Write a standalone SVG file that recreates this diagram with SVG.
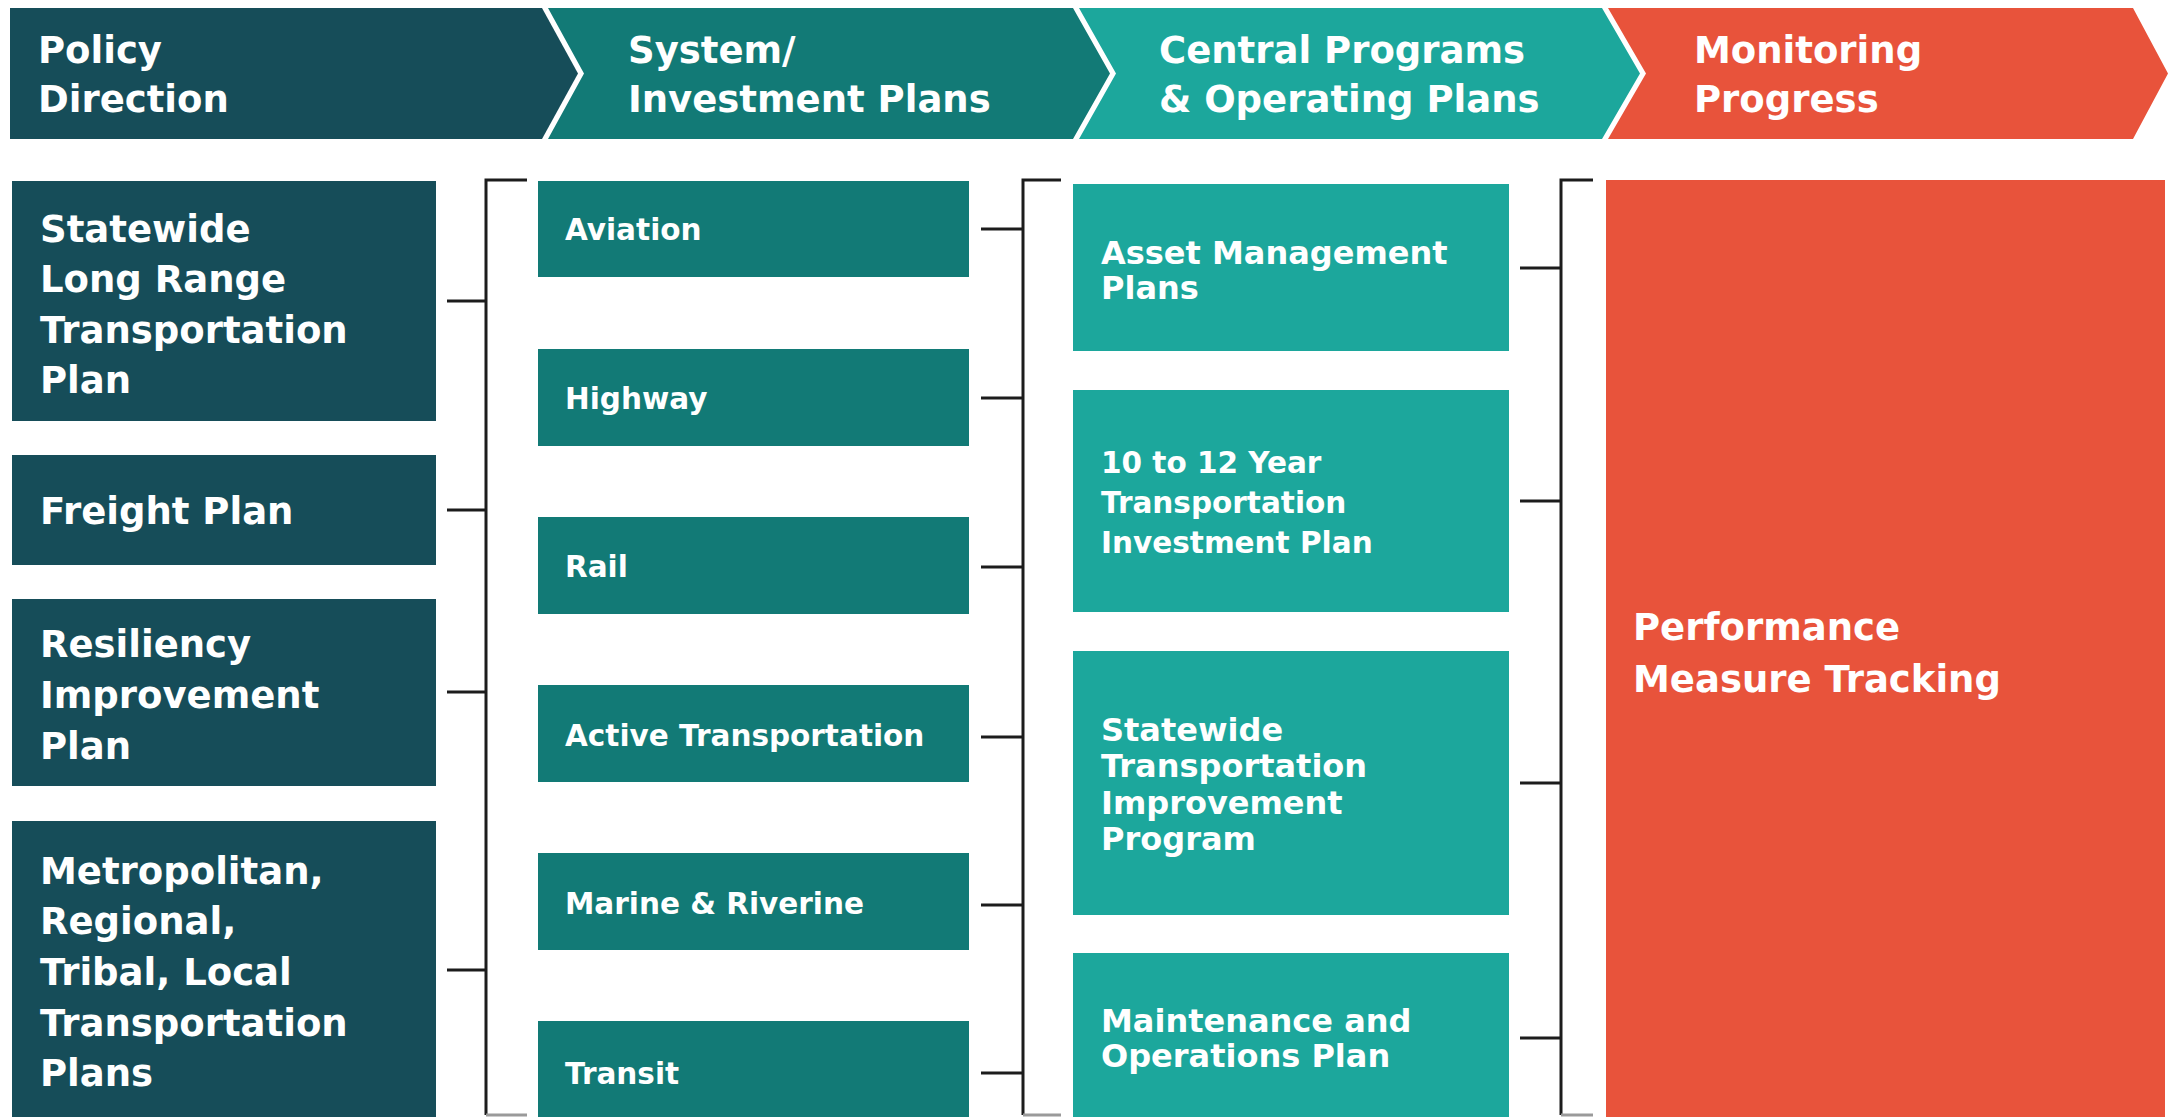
<svg xmlns="http://www.w3.org/2000/svg" width="2177" height="1117" viewBox="0 0 2177 1117">
<style>
.c1{fill:#164d59}
.c2{fill:#127a76}
.c3{fill:#1ca79c}
.c4{fill:#e8533b}
text{font-family:"DejaVu Sans","Liberation Sans",sans-serif;font-weight:bold;fill:#ffffff}
.h{font-size:37px}
.t1{font-size:37px}
.t2{font-size:29.5px}
.t3{font-size:32px}
.t3s{font-size:29.5px}
.t4{font-size:37px}
.ln{stroke:#1c1c1c;stroke-width:3;fill:none}
.lb{stroke:#9a9a9a;stroke-width:3;fill:none}
</style>
<rect width="2177" height="1117" fill="#ffffff"/>
<g id="header">
<g id="h-policy"><polygon class="c1" points="10,8 542,8 578,73.5 542,139 10,139"/>
<text class="h" x="38" y="63">Policy</text><text class="h" x="38" y="112">Direction</text></g>
<g id="h-system"><polygon class="c2" points="548,8 1073,8 1110,73.5 1073,139 548,139 584,73.5"/>
<text class="h" x="628" y="63">System/</text><text class="h" x="628" y="112">Investment Plans</text></g>
<g id="h-central"><polygon class="c3" points="1079,8 1602,8 1640,73.5 1602,139 1079,139 1116,73.5"/>
<text class="h" x="1159" y="63">Central Programs</text><text class="h" x="1159" y="112">&amp; Operating Plans</text></g>
<g id="h-monitor"><polygon class="c4" points="1608,8 2133,8 2168,73.5 2133,139 1608,139 1646,73.5"/>
<text class="h" x="1694" y="63">Monitoring</text><text class="h" x="1694" y="112">Progress</text></g>
</g>
<g id="col1">
<g id="n-slrtp"><rect class="c1" x="12" y="181" width="424" height="240"/>
<text class="t1" x="40" y="242">Statewide</text><text class="t1" x="40" y="292">Long Range</text><text class="t1" x="40" y="343">Transportation</text><text class="t1" x="40" y="393">Plan</text></g>
<g id="n-freight"><rect class="c1" x="12" y="455" width="424" height="110"/>
<text class="t1" x="40" y="524">Freight Plan</text></g>
<g id="n-resiliency"><rect class="c1" x="12" y="599" width="424" height="187"/>
<text class="t1" x="40" y="657">Resiliency</text><text class="t1" x="40" y="708">Improvement</text><text class="t1" x="40" y="759">Plan</text></g>
<g id="n-metro"><rect class="c1" x="12" y="821" width="424" height="310"/>
<text class="t1" x="40" y="884">Metropolitan,</text><text class="t1" x="40" y="934">Regional,</text><text class="t1" x="40" y="985">Tribal, Local</text><text class="t1" x="40" y="1036">Transportation</text><text class="t1" x="40" y="1086">Plans</text></g>
</g>
<g id="col2">
<g id="n-aviation"><rect class="c2" x="538" y="181" width="431" height="96"/><text class="t2" x="565" y="240">Aviation</text></g>
<g id="n-highway"><rect class="c2" x="538" y="349" width="431" height="97"/><text class="t2" x="565" y="409">Highway</text></g>
<g id="n-rail"><rect class="c2" x="538" y="517" width="431" height="97"/><text class="t2" x="565" y="577">Rail</text></g>
<g id="n-active"><rect class="c2" x="538" y="685" width="431" height="97"/><text class="t2" x="565" y="746">Active Transportation</text></g>
<g id="n-marine"><rect class="c2" x="538" y="853" width="431" height="97"/><text class="t2" x="565" y="914">Marine &amp; Riverine</text></g>
<g id="n-transit"><rect class="c2" x="538" y="1021" width="431" height="110"/><text class="t2" x="565" y="1084">Transit</text></g>
</g>
<g id="col3">
<g id="n-asset"><rect class="c3" x="1073" y="184" width="436" height="167"/>
<text class="t3" x="1101" y="264">Asset Management</text><text class="t3" x="1101" y="299">Plans</text></g>
<g id="n-tip"><rect class="c3" x="1073" y="390" width="436" height="222"/>
<text class="t3s" x="1101" y="473">10 to 12 Year</text><text class="t3s" x="1101" y="513">Transportation</text><text class="t3s" x="1101" y="553">Investment Plan</text></g>
<g id="n-stip"><rect class="c3" x="1073" y="651" width="436" height="264"/>
<text class="t3" x="1101" y="741">Statewide</text><text class="t3" x="1101" y="777">Transportation</text><text class="t3" x="1101" y="814">Improvement</text><text class="t3" x="1101" y="850">Program</text></g>
<g id="n-mo"><rect class="c3" x="1073" y="953" width="436" height="180"/>
<text class="t3" x="1101" y="1032">Maintenance and</text><text class="t3" x="1101" y="1067">Operations Plan</text></g>
</g>
<g id="col4">
<g id="n-performance"><rect class="c4" x="1606" y="180" width="559" height="950"/>
<text class="t4" x="1633" y="640">Performance</text><text class="t4" x="1633" y="692">Measure Tracking</text></g>
</g>
<g id="connectors">
<path class="ln" d="M527,180 H486 V1115"/>
<path class="lb" d="M486,1115 H527"/>
<path class="ln" d="M447,301 H486 M447,510 H486 M447,692 H486 M447,970 H486"/>
<path class="ln" d="M1061,180 H1023 V1115"/>
<path class="lb" d="M1023,1115 H1061"/>
<path class="ln" d="M981,229 H1023 M981,398 H1023 M981,567 H1023 M981,737 H1023 M981,905 H1023 M981,1073 H1023"/>
<path class="ln" d="M1593,180 H1561 V1115"/>
<path class="lb" d="M1561,1115 H1593"/>
<path class="ln" d="M1520,268 H1561 M1520,501 H1561 M1520,783 H1561 M1520,1038 H1561"/>
</g>
</svg>
